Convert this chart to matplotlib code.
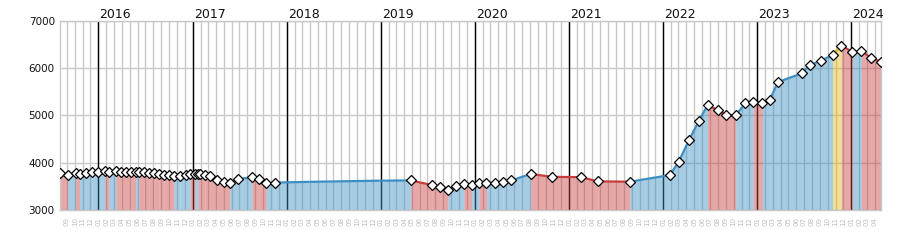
import matplotlib
matplotlib.use("Agg")
import matplotlib.pyplot as plt
import matplotlib.dates as mdates
import matplotlib.transforms as mtransforms
import numpy as np

# price points (drawn with a marker)
dates = ["2015-08-06", "2015-09-04", "2015-10-05", "2015-10-20", "2015-11-13",
         "2015-12-07", "2015-12-31", "2016-01-27", "2016-02-11", "2016-03-09",
         "2016-03-28", "2016-04-16", "2016-05-06", "2016-05-25", "2016-06-06",
         "2016-06-26", "2016-07-15", "2016-08-04", "2016-08-23", "2016-09-12",
         "2016-10-01", "2016-10-20", "2016-11-13", "2016-12-06", "2016-12-22",
         "2017-01-10", "2017-01-22", "2017-01-30", "2017-02-18", "2017-03-08",
         "2017-04-04", "2017-05-01", "2017-05-25", "2017-06-26", "2017-08-19",
         "2017-09-16", "2017-10-13", "2017-11-16", "2019-04-27", "2019-07-18",
         "2019-08-20", "2019-09-19", "2019-10-19", "2019-11-19", "2019-12-19",
         "2020-01-17", "2020-02-15", "2020-03-18", "2020-04-19", "2020-05-22",
         "2020-08-05", "2020-10-28", "2021-02-16", "2021-04-22", "2021-08-25",
         "2022-01-27", "2022-03-02", "2022-04-11", "2022-05-19", "2022-06-22",
         "2022-07-31", "2022-09-02", "2022-10-10", "2022-11-14", "2022-12-16",
         "2023-01-21", "2023-02-18", "2023-03-22", "2023-06-23", "2023-07-23",
         "2023-09-04", "2023-10-20", "2023-11-23", "2024-01-05", "2024-02-09",
         "2024-03-16", "2024-04-24"]
prices = [3780, 3750, 3775, 3765, 3785,
          3795, 3805, 3820, 3800, 3815,
          3810, 3805, 3800, 3795, 3810,
          3795, 3785, 3775, 3765, 3750,
          3735, 3720, 3725, 3745, 3765,
          3760, 3770, 3760, 3740, 3715,
          3640, 3600, 3565, 3655, 3690,
          3655, 3565, 3580, 3625, 3528,
          3479, 3416, 3514, 3543, 3522,
          3577, 3564, 3577, 3592, 3627,
          3761, 3700, 3695, 3605, 3598,
          3739, 4020, 4479, 4880, 5218,
          5113, 5007, 5000, 5254, 5289,
          5254, 5324, 5704, 5888, 6064,
          6155, 6275, 6471, 6345, 6366,
          6218, 6133]

# small steps on the line without a marker
step_dates = ["2018-03-31", "2018-12-28"]
step_prices = [3595, 3620]

years = [2016, 2017, 2018, 2019, 2020, 2021, 2022, 2023, 2024]
y_ticks = [3000, 4000, 5000, 6000, 7000]
x_start, x_end = "2015-08-06", "2024-04-24"

UP = "#3b8fc4"
DOWN = "#c83c3c"
TOP = "#dfb81a"
GRID = "#c8c8c8"

fig = plt.figure(figsize=(9, 2.5), dpi=100)
ax = fig.add_axes([0.067, 0.16, 0.9116, 0.757])

d = np.array(dates + step_dates, dtype="datetime64[D]")
p = np.array(prices + step_prices, dtype=float)
order = np.argsort(d)
d, p = d[order], p[order]
imax = int(np.argmax(p))

for i in range(len(d) - 1):
    if i + 1 == imax:
        c = TOP
    elif p[i + 1] < p[i]:
        c = DOWN
    else:
        c = UP
    ax.fill_between(d[i:i + 2], p[i:i + 2], y_ticks[0], color=c, alpha=0.45,
                    linewidth=0, antialiased=False, zorder=2)
    ax.plot(d[i:i + 2], p[i:i + 2], color=c, lw=1.6, solid_capstyle="butt", zorder=3)

ax.plot(np.array(dates, dtype="datetime64[D]"), prices, ls="none", marker="D", ms=5.6,
        mfc="white", mec="black", mew=0.9, zorder=4)

for y in years:
    ax.axvline(np.datetime64(f"{y}-01-01"), color="black", lw=1, zorder=1.5)
    ax.text(np.datetime64(f"{y}-01-01") + np.timedelta64(4, "D"), 1.017, str(y),
            transform=mtransforms.blended_transform_factory(ax.transData, ax.transAxes),
            fontsize=9, color="#111111", ha="left", va="baseline")

ax.set_xlim(np.datetime64(x_start), np.datetime64(x_end))
ax.set_ylim(y_ticks[0], y_ticks[-1])
ax.set_yticks(y_ticks)
ax.xaxis.set_major_locator(mdates.MonthLocator())
ax.xaxis.set_major_formatter(mdates.DateFormatter("%m"))
ax.tick_params(axis="x", length=0, pad=5, labelsize=5, labelcolor="#c0c0c0",
               labelrotation=90)
ax.tick_params(axis="y", length=0, pad=4, labelsize=7.5, labelcolor="#111111")
ax.grid(True, color=GRID, lw=1, zorder=0)
ax.set_axisbelow(True)
for s in ax.spines.values():
    s.set_color(GRID)
    s.set_linewidth(1)

fig.savefig("out.png", dpi=100)
